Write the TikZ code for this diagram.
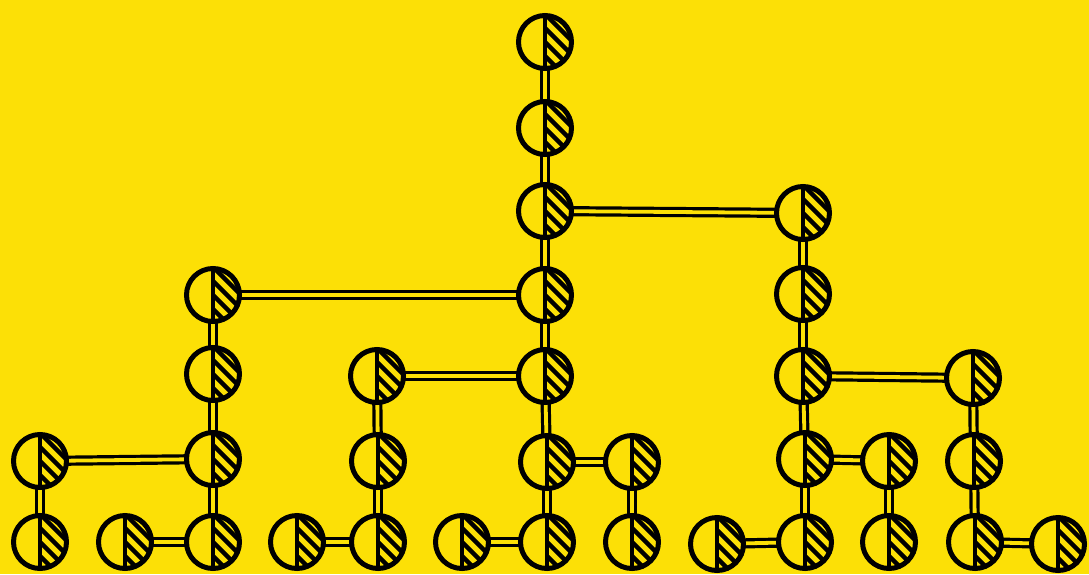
\documentclass[tikz,border=0pt]{standalone}
\definecolor{bg}{RGB}{252,224,6}
\pgfdeclarelayer{background}
\pgfsetlayers{background,main}
\tikzset{
  ball/.style={circle, draw=black, line width=5pt, fill=bg, minimum size=53pt, inner sep=0pt,
    path picture={
      \begin{scope}
        \clip ([xshift=1.5pt]path picture bounding box.north) rectangle ([xshift=-2pt]path picture bounding box.south east);
        \foreach \i in {-56,-42,...,56}
          \draw[line width=4.4pt, line cap=round] ([shift={(\i pt-34pt,34pt)}]path picture bounding box.center) -- ([shift={(\i pt+34pt,-34pt)}]path picture bounding box.center);
      \end{scope}
      \draw[line width=4pt] (path picture bounding box.north) -- (path picture bounding box.south);
    }},
  link/.style={draw=black, line width=3.2pt, double=bg, double distance=3.8pt}
}
\begin{document}
\begin{tikzpicture}[x=1pt,y=-1pt]
\useasboundingbox (0,0) rectangle (1089,574);
% main column
\node[ball] (m1) at (545,42) {};
\node[ball] (m2) at (545,128) {};
\node[ball] (m3) at (545,211) {};
\node[ball] (m4) at (545,295) {};
\node[ball] (m5) at (545,376) {};
\node[ball] (m6) at (547,462) {};
\node[ball] (m7) at (547,542) {};
% left column
\node[ball] (l1) at (213,295) {};
\node[ball] (l2) at (213,374) {};
\node[ball] (l3) at (213,459) {};
\node[ball] (l4) at (213,542) {};
\node[ball] (a1) at (40,461) {};
\node[ball] (a2) at (40,542) {};
\node[ball] (b1) at (125,542) {};
% middle-left column
\node[ball] (c1) at (377,376) {};
\node[ball] (c2) at (378,461) {};
\node[ball] (c3) at (378,542) {};
\node[ball] (d1) at (297,542) {};
\node[ball] (e1) at (462,542) {};
% right of main
\node[ball] (f1) at (632,462) {};
\node[ball] (f2) at (632,542) {};
% right column
\node[ball] (r1) at (803,213) {};
\node[ball] (r2) at (803,294) {};
\node[ball] (r3) at (803,376) {};
\node[ball] (r4) at (805,459) {};
\node[ball] (r5) at (805,542) {};
\node[ball] (g1) at (717,544) {};
\node[ball] (h1) at (889,461) {};
\node[ball] (h2) at (889,542) {};
\node[ball] (k1) at (973,378) {};
\node[ball] (k2) at (974,461) {};
\node[ball] (k3) at (975,542) {};
\node[ball] (p1) at (1058,544) {};
% links
\begin{pgfonlayer}{background}
\fill[bg] (0,0) rectangle (1089,574);
\foreach \u/\v in {m1/m2,m2/m3,m3/m4,m4/m5,m5/m6,m6/m7,
  l1/l2,l2/l3,l3/l4,a1/a2,c1/c2,c2/c3,f1/f2,
  r1/r2,r2/r3,r3/r4,r4/r5,h1/h2,k1/k2,k2/k3}
  \draw[link] (\u.center) -- (\v.center);
\foreach \u/\v in {a1/l3,b1/l4,l1/m4,d1/c3,c1/m5,e1/m7,m6/f1,
  m3/r1,g1/r5,r3/k1,r4/h1,k3/p1}
  \draw[link] (\u.center) -- (\v.center);
\end{pgfonlayer}
\end{tikzpicture}
\end{document}
